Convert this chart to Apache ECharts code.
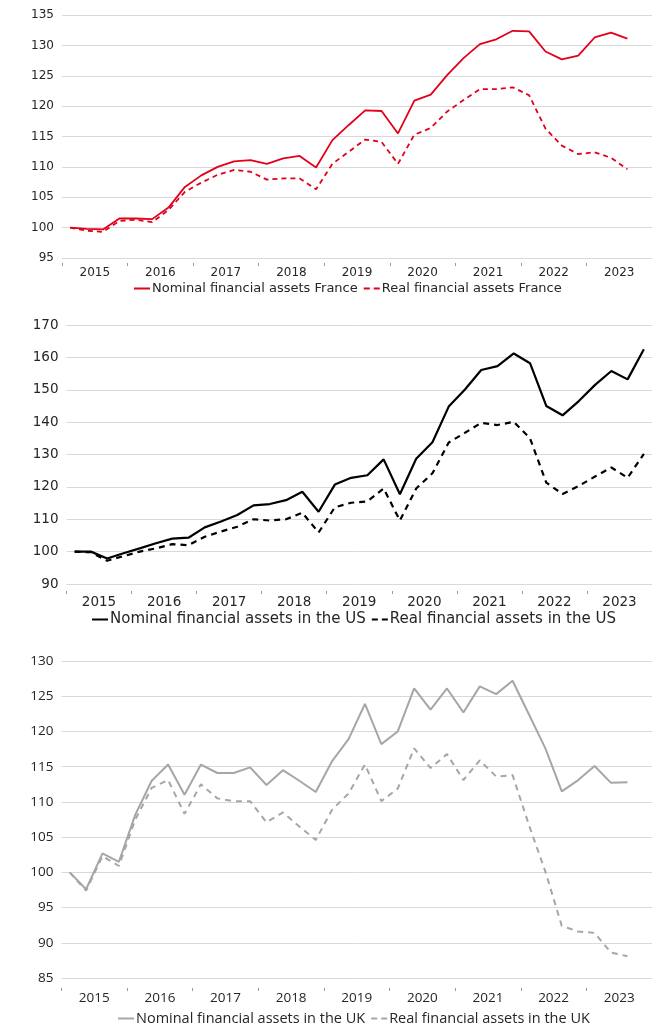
<!DOCTYPE html>
<html>
<head>
<meta charset="utf-8">
<script src="https://cdn.jsdelivr.net/npm/echarts@6/dist/echarts.min.js"></script>
<style>
    html, body { margin: 0; padding: 0; background: #fff; }
    #main { width: 652px; height: 1025px; }
</style>
</head>
<body>
<div id="main"></div>
<script>
// tick labels (one per year, four quarters each)
var years = ["2015", "2016", "2017", "2018", "2019", "2020", "2021", "2022", "2023"];
var quarters = [];
years.forEach(function (y) {
    ["Q1", "Q2", "Q3", "Q4"].forEach(function (q) { quarters.push(y + q); });
});

// France, 2015Q1 = 100
var frNominal = [100.0, 99.8, 99.7, 101.5, 101.5, 101.4, 103.3, 106.7, 108.6, 110.0, 110.9, 111.1,
    110.5, 111.4, 111.8, 109.9, 114.4, 116.9, 119.3, 119.2, 115.5, 120.9, 121.9, 125.1,
    127.9, 130.2, 131.0, 132.4, 132.3, 129.0, 127.7, 128.3, 131.3, 132.1, 131.1];
var frReal = [100.0, 99.5, 99.3, 101.1, 101.3, 100.9, 102.9, 105.9, 107.4, 108.7, 109.5, 109.2,
    107.9, 108.1, 108.1, 106.3, 110.5, 112.5, 114.5, 114.1, 110.5, 115.3, 116.4, 119.1,
    121.0, 122.8, 122.8, 123.1, 121.8, 116.3, 113.5, 112.1, 112.4, 111.5, 109.6];

// US
var usNominal = [100.0, 100.0, 97.9, 99.5, 101.0, 102.6, 104.0, 104.3, 107.5, 109.3, 111.3, 114.3,
    114.7, 115.9, 118.5, 112.3, 120.7, 122.8, 123.6, 128.5, 117.7, 128.7, 133.8, 144.8,
    150.1, 156.1, 157.3, 161.2, 158.2, 145.0, 142.1, 146.5, 151.5, 155.8, 153.2, 162.5];
var usReal = [100.0, 99.8, 97.2, 98.6, 100.0, 101.0, 102.3, 102.0, 104.6, 106.2, 107.7, 110.0,
    109.6, 110.0, 112.0, 105.9, 113.7, 115.1, 115.5, 119.5, 109.6, 119.5, 124.2, 133.7,
    136.7, 139.8, 139.1, 140.1, 135.0, 121.3, 117.8, 120.3, 123.2, 126.0, 122.8, 130.2];

// UK
var ukNominal = [100.0, 97.6, 102.7, 101.5, 108.2, 113.0, 115.3, 111.0, 115.3, 114.1, 114.1, 114.9,
    112.4, 114.5, 113.0, 111.4, 115.8, 118.9, 123.9, 118.2, 120.0, 126.1, 123.1, 126.1,
    122.7, 126.4, 125.3, 127.2, 122.4, 117.6, 111.5, 113.1, 115.1, 112.7, 112.8];
var ukReal = [100.0, 97.4, 102.3, 100.9, 107.5, 112.0, 113.1, 108.3, 112.5, 110.5, 110.1, 110.1,
    107.1, 108.5, 106.5, 104.6, 108.9, 111.2, 115.3, 110.1, 111.9, 117.6, 114.8, 116.8,
    113.1, 115.9, 113.6, 113.8, 106.7, 100.1, 92.4, 91.6, 91.4, 88.6, 88.1];

var chart = echarts.init(document.getElementById('main'));

// legend icons: solid bar and two dashes
var solidIcon = "path://M0,0H16V2H0Z";
var dashIcon = "path://M0,0H6V2H0Z M10,0H16V2H10Z";

var panels = [
    {font: "DejaVu Sans", size: 12, lsize: 13, color: "#e2001a", width: 1.8, dash: [5, 4],
        names: ["Nominal financial assets France", "Real financial assets France"],
        data: [frNominal, frReal], min: 95, max: 135, step: 5,
        grid: {left: 62, width: 598, top: 15, height: 243},
        offset: 5, margin: 4, legend: {left: 134, top: 282}},
    {font: "DejaVu Sans", size: 13.5, lsize: 15, color: "#000000", width: 2.2, dash: [6, 5],
        names: ["Nominal financial assets in the US", "Real financial assets in the US"],
        data: [usNominal, usReal], min: 90, max: 170, step: 10,
        grid: {left: 66.5, width: 588, top: 325, height: 259},
        offset: 7, margin: 4, legend: {left: 92, top: 612}},
    {font: "Open Sans", size: 13.5, lsize: 14.5, color: "#a6a6a6", width: 2, dash: [6, 5],
        names: ["Nominal financial assets in the UK", "Real financial assets in the UK"],
        data: [ukNominal, ukReal], min: 85, max: 130, step: 5,
        grid: {left: 61.5, width: 605, top: 661, height: 317},
        offset: 10, margin: 3, legend: {left: 118, top: 1011}}
];

var grids = [], xAxes = [], yAxes = [], legends = [], series = [];
panels.forEach(function (p, k) {
    grids.push(p.grid);
    // quarter axis carries the data, year axis draws labels and ticks
    xAxes.push({type: "category", gridIndex: k, data: quarters, show: false, position: "bottom"});
    xAxes.push({
        type: "category", gridIndex: k, data: years, position: "bottom", offset: p.offset,
        axisLine: {show: false},
        axisTick: {show: true, length: 3, lineStyle: {color: "#999"}},
        axisLabel: {fontFamily: p.font, fontSize: p.size, color: "#262626", margin: p.margin},
        splitLine: {show: false}
    });
    yAxes.push({
        type: "value", gridIndex: k, min: p.min, max: p.max, interval: p.step,
        axisLine: {show: false}, axisTick: {show: false},
        axisLabel: {fontFamily: p.font, fontSize: p.size, color: "#262626", margin: 8},
        splitLine: {lineStyle: {color: "#d9d9d9", width: 1}}
    });
    legends.push({
        data: [{name: p.names[0], icon: solidIcon}, {name: p.names[1], icon: dashIcon}],
        left: p.legend.left, top: p.legend.top, orient: "horizontal",
        itemWidth: 16, itemHeight: 2, itemGap: 6, padding: 0,
        itemStyle: {borderWidth: 0},
        textStyle: {fontFamily: p.font, fontSize: p.lsize, color: "#262626", padding: [0, 0, 0, -3]}
    });
    p.names.forEach(function (n, j) {
        series.push({
            name: n, type: "line", xAxisIndex: 2 * k, yAxisIndex: k,
            data: p.data[j], symbol: "none", smooth: false,
            lineStyle: {color: p.color, width: p.width, type: j === 0 ? "solid" : p.dash},
            itemStyle: {color: p.color},
            animation: false
        });
    });
});

chart.setOption({
    animation: false,
    grid: grids,
    xAxis: xAxes,
    yAxis: yAxes,
    legend: legends,
    series: series
});
</script>
</body>
</html>
